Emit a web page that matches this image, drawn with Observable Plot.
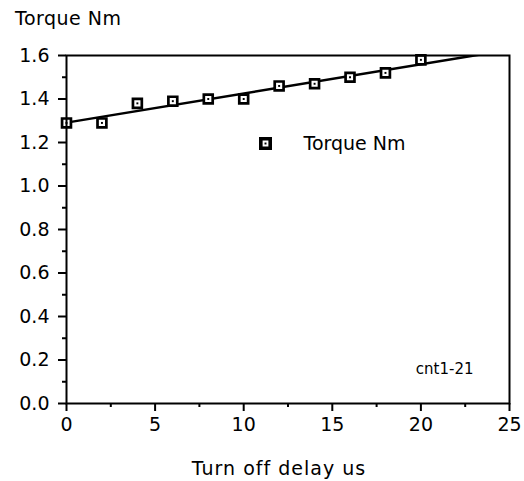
<!DOCTYPE html>
<html><head><meta charset="utf-8">
<script src="https://cdn.jsdelivr.net/npm/d3@7"></script>
<script src="https://cdn.jsdelivr.net/npm/@observablehq/plot@0.6"></script>
<style>
html,body{margin:0;padding:0;background:#fff;overflow:hidden}
body{font-family:"DejaVu Sans",sans-serif;color:#000;width:524px}
#title{height:28px;box-sizing:border-box;padding:9px 0 0 15px;font-size:19px;line-height:19px;letter-spacing:0.5px}
#xlabel{height:33px;box-sizing:border-box;width:524px;padding:11px 0 0 34px;text-align:center;font-size:19px;line-height:19px;letter-spacing:1px}
</style></head><body>
<div id="title"></div>
<div id="chart"></div>
<div id="xlabel"></div>
<script>
// Data
const delay  = [0, 2, 4, 6, 8, 10, 12, 14, 16, 18, 20];
const torque = [1.29, 1.29, 1.38, 1.39, 1.40, 1.40, 1.46, 1.47, 1.50, 1.52, 1.58];
const seriesName = "Torque Nm";
const yTitle = "Torque Nm";
const xTitle = "Turn off delay us";
const note = "cnt1-21";
const xTicks = [0, 5, 10, 15, 20, 25];
const xMinor = [2.5, 7.5, 12.5, 17.5, 22.5];
const yTicks = [0, 0.2, 0.4, 0.6, 0.8, 1.0, 1.2, 1.4, 1.6];
const yMinor = [0.1, 0.3, 0.5, 0.7, 0.9, 1.1, 1.3, 1.5];
const xDomain = [0, 25];
const yDomain = [0, 1.6];

document.getElementById("title").textContent = yTitle;
document.getElementById("xlabel").textContent = xTitle;

const points = delay.map((d, i) => ({delay: d, torque: torque[i]}));

// least-squares fit of the series
const mx = d3.mean(delay), my = d3.mean(torque);
const slope = d3.sum(points, p => (p.delay - mx) * (p.torque - my)) / d3.sum(points, p => (p.delay - mx) ** 2);
const intercept = my - slope * mx;
const fit = xDomain.map(x => ({delay: x, torque: intercept + slope * x}));

const chart = Plot.plot({
  width: 524,
  height: 420,
  marginLeft: 66,
  marginRight: 15,
  marginTop: 27,
  marginBottom: 45,
  style: {fontFamily: "DejaVu Sans", fontSize: "19px", color: "#000", background: "#fff"},
  x: {domain: xDomain},
  y: {domain: yDomain},
  marks: [
    Plot.axisX({ticks: xTicks, tickSize: 8, tickPadding: 6, strokeWidth: 2, label: null, tickFormat: d3.format("d")}),
    Plot.axisX({ticks: xMinor, tickSize: 4, strokeWidth: 2, text: null, label: null}),
    Plot.axisY({ticks: yTicks, tickSize: 8, tickPadding: 9, strokeWidth: 2, label: null, tickFormat: d3.format(".1f")}),
    Plot.axisY({ticks: yMinor, tickSize: 4, strokeWidth: 2, text: null, label: null}),
    Plot.line(fit, {x: "delay", y: "torque", stroke: "#000", strokeWidth: 2.5, clip: true}),
    Plot.dot(points, {x: "delay", y: "torque", symbol: "square", r: 5, fill: "#fff", stroke: "#000", strokeWidth: 2.7}),
    Plot.dot(points, {x: "delay", y: "torque", symbol: "square", r: 1.1, fill: "#000"}),
    Plot.frame({stroke: "#000", strokeWidth: 2}),
    // legend
    Plot.dot([seriesName], {frameAnchor: "top-left", dx: 199, dy: 88, symbol: "square", r: 5.3, fill: "#fff", stroke: "#000", strokeWidth: 3.6}),
    Plot.dot([seriesName], {frameAnchor: "top-left", dx: 199, dy: 88, symbol: "square", r: 1.1, fill: "#000"}),
    Plot.text([seriesName], {text: d => d, frameAnchor: "top-left", dx: 237, dy: 88, textAnchor: "start", lineAnchor: "middle", fontSize: 19}),
    Plot.text([note], {text: d => d, frameAnchor: "bottom-right", dx: -36, dy: -34, textAnchor: "end", lineAnchor: "middle", fontSize: 15})
  ]
});
document.getElementById("chart").appendChild(chart);
</script>
</body></html>
